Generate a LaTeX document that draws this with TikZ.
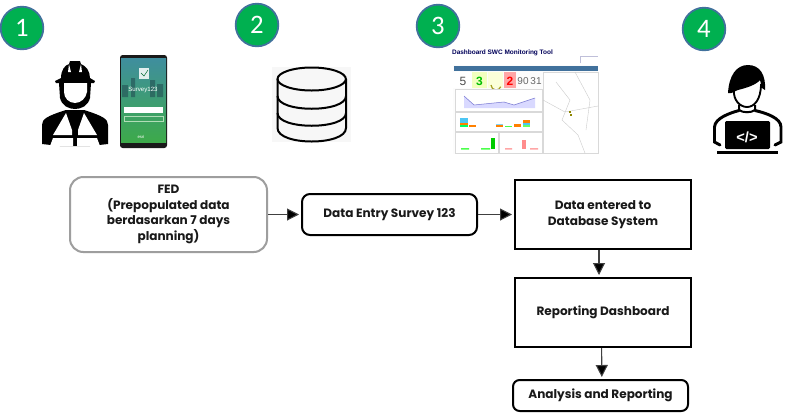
\documentclass[tikz,border=0pt]{standalone}
\usepackage{fontspec}
\setmainfont{Poppins}
\newfontfamily\numfont{Carlito}
\newfontfamily\smallfont{Liberation Sans}
\usetikzlibrary{arrows.meta,calc}
\definecolor{gr}{HTML}{00B050}
\definecolor{grb}{HTML}{41719C}
\definecolor{phtop}{HTML}{3F8E9E}
\definecolor{phmid}{HTML}{62A968}
\definecolor{phbot}{HTML}{3DAA4A}
\tikzset{
  x=0.75pt,y=-0.75pt,
  numdot/.style={circle,draw=grb,line width=1.3pt,fill=gr,text=white,minimum size=32pt,inner sep=0pt,font=\numfont\fontsize{20}{20}\selectfont},
  boxbase/.style={draw=black,line width=1.5pt,align=center,font=\bfseries\fontsize{9.05}{11.7}\selectfont,inner sep=0pt,text=black!90},
  conn/.style={draw=black!75,line width=0.8pt,-{Triangle[length=9pt,width=9pt,fill=black]},shorten >=1.5pt},
  tiny/.style={font=\smallfont\fontsize{2.6}{3}\selectfont,inner sep=0pt},
  kpi/.style={font=\smallfont\fontsize{9}{9}\selectfont,inner sep=0pt},
  panel/.style={draw=black!15,line width=0.3pt,fill=white},
}
\begin{document}
\begin{tikzpicture}
\useasboundingbox (0,0) rectangle (797,412);
\fill[white] (0,0) rectangle (797,412);
% number badges
\node[numdot] (n1) at (22,28) {1};
\node[numdot] (n2) at (257,25) {2};
\node[numdot] (n3) at (438,26) {3};
\node[numdot] (n4) at (704,29) {4};
% worker
\fill[black] (55,81) -- (61,78) .. controls (61,70) and (65,65) .. (69,64) -- (70,61) -- (80,61) -- (81,64) .. controls (86,66) and (90,71) .. (90,78) -- (95,81) -- (94,83) -- (56,83) -- cycle;
\fill[white] (69,64) -- (68,72) -- (71,72) -- cycle (81,64) -- (82,72) -- (79,72) -- cycle;
\fill[black] (59,83) -- (91,83) -- (90,98) .. controls (88,106) and (81,109) .. (75,109) .. controls (69,109) and (62,106) .. (60,98) -- cycle;
\fill[white] (64,83) -- (87,83) -- (87,92) .. controls (86,98) and (81,103) .. (75,103) .. controls (69,103) and (64,98) .. (64,92) -- cycle;
\fill[black] (42,125) .. controls (42,119) and (47,116) .. (66,110) -- (84,110) .. controls (103,116) and (108,119) .. (108,125) -- (108,144) -- (90,146) -- (60,146) -- (42,144) -- cycle;
\fill[white] (66,113) -- (53,135) -- (72,135) -- (72,130) -- cycle;
\fill[white] (84,113) -- (97,135) -- (78,135) -- (78,130) -- cycle;
\fill[white] (53,138) -- (73,138) -- (73,146) -- (50,146) -- cycle;
\fill[white] (97,138) -- (77,138) -- (77,146) -- (100,146) -- cycle;
% phone
\fill[black!90,rounded corners=2pt] (120,55) rectangle (167,148);
\shade[top color=phtop,middle color=phmid,bottom color=phbot] (121,58) rectangle (166,142);
\fill[black!50!phtop,opacity=.55] (122,85) rectangle (128,97) (131,78) rectangle (135,97) (150,80) rectangle (155,97) (157,84) rectangle (163,97);
\fill[white] (124,106.5) rectangle (163,113);
\draw[white!60!phbot,line width=0.3pt] (124,116) rectangle (163,121);
\fill[white,opacity=.85] (139,68) rectangle (149,79);
\draw[gr!60!black,line width=0.4pt] (141,73) -- (144,76) -- (148,70);
\node[inner sep=0pt,text=white,font=\smallfont\fontsize{4.6}{5}\selectfont] (ph) at (143,90) {Survey123};
\node[inner sep=0pt,text=white,font=\smallfont\fontsize{3.2}{4}\selectfont] (es) at (141,137) {esri};
% database
\fill[black!3] (272,67) rectangle (351,142);
\draw[black,line width=1.5pt] (277.5,79) -- (277.5,128) .. controls (277.5,146) and (346,146) .. (346,128) -- (346,79);
\draw[black,line width=1.5pt] (311.7,79) ellipse [x radius=34.2,y radius=11.5];
\draw[black,line width=1.5pt] (277.5,96) .. controls (277.5,113) and (346,113) .. (346,96);
\draw[black,line width=1.5pt] (277.5,113) .. controls (277.5,130) and (346,130) .. (346,113);
% dashboard
\node[inner sep=0pt,text=blue!35!black,font=\smallfont\bfseries\fontsize{4.85}{6}\selectfont] (dt) at (502.5,53) {Dashboard SWC Monitoring Tool};
\draw[blue!25!gray!40,line width=0.5pt] (580,63) -- (580,56) -- (598,56);
\fill[black!1] (453,65) rectangle (598,154);
\fill[grb] (453.5,65.5) rectangle (598,71);
\fill[panel] (543,72) rectangle (598,153);
\draw[black!20,line width=0.3pt] (556,82) -- (570,100) -- (562,120) -- (578,135) -- (585,153) (543,100) -- (565,112) -- (598,106) (575,72) -- (590,100) -- (586,130);
\fill[olive] (569,111) rectangle (571,113);
\fill[olive] (569.5,114) rectangle (571.5,116);
\fill[white] (453,72) rectangle (472,88);
\fill[green!20!yellow!25] (472,72) rectangle (487,88);
\fill[green!10!yellow!15] (488,72) rectangle (503,88);
\fill[red!35] (504,72) rectangle (516,88);
\node[kpi,text=black!70] (k1) at (463,81) {5};
\node[kpi,text=green!75!black,font=\smallfont\bfseries\fontsize{9}{9}\selectfont] (k2) at (479.5,81) {3};
\draw[olive!80,line width=0.9pt] (491,85) arc (180:20:5);
\node[kpi,text=red,font=\smallfont\bfseries\fontsize{9}{9}\selectfont] (k3) at (510,81) {2};
\node[kpi,text=black!60,font=\smallfont\fontsize{7.5}{8}\selectfont] (k4) at (523,81) {90};
\node[kpi,text=black!60,font=\smallfont\fontsize{7.5}{8}\selectfont] (k5) at (536,81) {31};
\fill[panel] (455,89) rectangle (542,111);
\fill[blue!15] (464,96) -- (474,105) -- (504,102) -- (514,105) -- (535,98) -- (535,108) -- (464,108) -- cycle;
\draw[blue!50!gray!70,line width=0.4pt] (464,96) -- (474,105) -- (504,102) -- (514,105) -- (535,98);
\fill[panel] (455,112) rectangle (542,131);
\fill[cyan!70] (460,118) rectangle (468,123);
\fill[orange] (460,123) rectangle (468,125);
\fill[green!60!cyan] (460,125) rectangle (468,127);
\fill[orange] (469,125) rectangle (476,127);
\fill[cyan!50] (496,124) rectangle (503,125);
\fill[orange] (496,125) rectangle (503,127);
\fill[green!70] (505,126) rectangle (512,127);
\fill[orange] (514,124) rectangle (521,127);
\fill[orange] (523,120) rectangle (530,123);
\fill[cyan!70] (523,123) rectangle (530,125);
\fill[green!60] (523,125) rectangle (530,127);
\fill[panel] (455,132) rectangle (498,153);
\fill[panel] (499,132) rectangle (542,153);
\fill[green!80!black] (491,138) rectangle (495,149);
\fill[green!70] (461,148) rectangle (469,149.5) (481,148) rectangle (490,149.5);
\fill[red!45] (522,140) rectangle (526,149);
\fill[red!35] (505,148) rectangle (512,149.5) (530,148) rectangle (538,149.5);
% developer
\draw[black,line width=1.4pt] (734,90) .. controls (733,100) and (740,107) .. (747,107) .. controls (754,107) and (761,100) .. (761,84);
\fill[black] (728,93) .. controls (729,76) and (736,65) .. (748,65) .. controls (760,65) and (766,75) .. (765,90) -- (762,88) -- (760,80) .. controls (756,85) and (746,88) .. (738,90) .. controls (734,91) and (733,94) .. (728,93) -- cycle;
\draw[black,line width=1.5pt] (739,105) -- (739,110) .. controls (743,113) and (751,113) .. (755,110) -- (755,105);
\draw[black,line width=2.2pt,line cap=round] (720,145) -- (714.5,142) -- (714.5,127) .. controls (715,118) and (730,113) .. (739,110.5) (755,110.5) .. controls (766,113) and (781,118) .. (781,127) -- (781,142) -- (775,145);
\fill[black,rounded corners=1pt] (725,121) rectangle (770,149);
\fill[black] (717,150.5) rectangle (778,153.5);
\node[inner sep=0pt,text=white,font=\smallfont\bfseries\fontsize{11}{11}\selectfont] (code) at (747,137) {</>};
% boxes
\newcommand{\bx}[6]{\node[boxbase,#1,minimum width=#4*0.75pt,minimum height=#5*0.75pt] (#2) at (#3) {#6};}
\bx{draw=black!38,rounded corners=10pt}{fed}{168.5,214.5}{197}{75}{FED\\(Prepopulated data\\berdasarkan 7 days\\planning)}
\bx{rounded corners=6pt}{entry}{389.5,214.5}{175}{41}{Data Entry Survey 123}
\bx{}{db}{603,214.5}{176}{69}{Data entered to\\Database System}
\bx{}{rep}{603,312.5}{176}{69}{Reporting Dashboard}
\bx{rounded corners=5pt}{ana}{600.5,395.5}{175}{31}{Analysis and Reporting}
% connectors
\draw[conn] (fed.east) -- (entry.west);
\draw[conn] (entry.east) -- (db.west);
\draw[conn] ([xshift=-3pt]db.south) -- ([xshift=-3pt]rep.north);
\draw[conn] ([xshift=-1pt]rep.south) -- ([xshift=1pt]ana.north);
\end{tikzpicture}
\end{document}
